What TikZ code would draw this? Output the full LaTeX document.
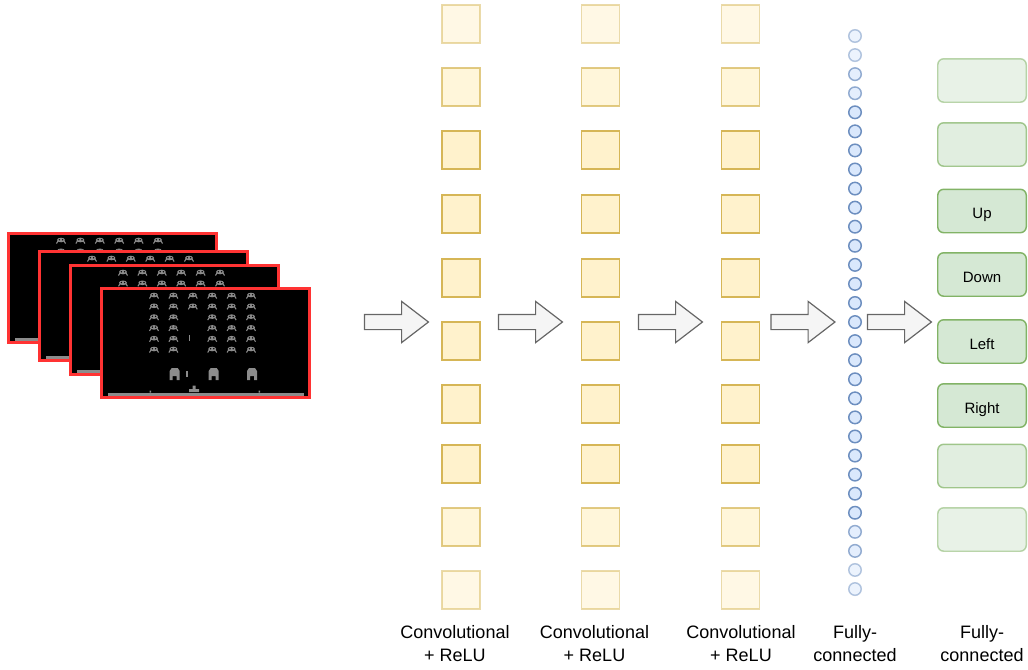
\documentclass[tikz,border=0pt]{standalone}
\usepackage{fontspec}
\setmainfont{Liberation Sans}
\usetikzlibrary{
	positioning,
	shapes.arrows
}

\definecolor{convfill}{HTML}{FFF2CC}
\definecolor{convline}{HTML}{D6B656}
\definecolor{fcfill}{HTML}{DAE8FC}
\definecolor{fcline}{HTML}{6C8EBF}
\definecolor{outfill}{HTML}{D5E8D4}
\definecolor{outline}{HTML}{82B366}
\definecolor{arrowfill}{HTML}{F5F5F5}
\definecolor{arrowline}{HTML}{666666}
\definecolor{screenred}{HTML}{FF3333}
\definecolor{spritegray}{HTML}{8C8C8C}

\begin{document}
\begin{tikzpicture}[
				x=0.75pt, y=-0.75pt,
				fmap/.style={draw=convline, fill=convfill, line width=1.1pt, minimum size=28.2pt, inner sep=0pt},
				neuron/.style={circle, draw=fcline, fill=fcfill, line width=1.1pt, minimum size=9.4pt, inner sep=0pt},
				action/.style={rounded corners=4.5pt, draw=outline, fill=outfill, line width=1.1pt, minimum width=66.4pt, minimum height=32.6pt, inner sep=0pt, text height=11.8pt, text depth=0pt, font=\fontsize{11.25}{13}\selectfont},
				blockarrow/.style={single arrow, draw=arrowline, fill=arrowfill, line width=0.9pt, inner sep=5.25pt, minimum height=48pt, single arrow head extend=9.75pt, single arrow tip angle=75},
				caption/.style={align=center, font=\fontsize{13.5}{17.25}\selectfont},
				screen/.style={fill=black, draw=screenred, line width=2.25pt},
				sprite/.style={fill=spritegray},
				invader/.pic={
					\fill[sprite] (0,0) ellipse (4 and 2.3);
					\draw[spritegray, line width=0.8pt] (-3,1) -- (-4.5,3.5) (3,1) -- (4.5,3.5);
					\fill[black] (-1.6,-0.3) circle (0.8) (1.6,-0.3) circle (0.8);
				}
			]
				\useasboundingbox (0,0) rectangle (1028,669);
				% stacked game frames, back to front
				\foreach \fx/\fy in {7/232, 38/250, 69/264, 100/287} {
					\begin{scope}[shift={(\fx,\fy)}]
						\draw[screen] (1.5,1.5) rectangle (209.5,110.5);
						% invaders
						\foreach \j in {0,1}
							\foreach \i in {0,...,5}
								\pic at ({54+19.4*\i},{8+10.8*\j}) {invader};
						\foreach \j in {2,...,5}
							\foreach \i in {0,1,3,4,5}
								\pic at ({54+19.4*\i},{8+10.8*\j}) {invader};
						\fill[sprite] (89.2,48) rectangle (90.4,54);
						% bunkers
						\foreach \bx in {74.7, 113.7, 152}
							\fill[sprite] (\bx-5,93) -- (\bx-5,84) -- (\bx-3,81) -- (\bx+3,81) -- (\bx+5,84)
								-- (\bx+5,93) -- (\bx+2,93) -- (\bx+2,89) -- (\bx-2,89) -- (\bx-2,93) -- cycle;
						\fill[sprite] (86.4,84) rectangle (87.6,90);
						% player and ground
						\fill[sprite] (89,105) rectangle (99,102) (92.5,102) rectangle (95.5,98.5);
						\fill[sprite] (8,105.5) rectangle (204,108.5);
						\fill[sprite] (49.5,103.5) rectangle (51,105.5) (158.5,103.5) rectangle (160,105.5);
					\end{scope}
				}
				% convolutional layers
				\foreach \cx [count=\c] in {461, 600.5, 740.5} {
					\foreach \ry/\op [count=\r] in {24/0.5, 87/0.72, 150/1, 214/1, 278/1, 341/1, 404/1, 464/1, 527/0.72, 590/0.5} {
						\node[fmap, opacity=\op] (conv\c-\r) at (\cx,\ry) {};
					}
				}
				% fully connected layer
				\foreach \n in {1,...,30} {
					\pgfmathsetmacro{\op}{(\n<3 || \n>28) ? 0.5 : ((\n<5 || \n>26) ? 0.72 : 1)}
					\node[neuron, opacity=\op] (fc-\n) at (855,{36+19.07*(\n-1)}) {};
				}
				% output actions
				\foreach \oy/\op/\txt [count=\k] in {80.5/0.55/, 144.5/0.72/, 211/1/Up, 274.5/1/Down, 341.5/1/Left, 405.5/1/Right, 466/0.72/, 529.5/0.55/} {
					\node[action, opacity=\op] (act-\k) at (982,\oy) {\txt};
				}
				% arrows between stages
				\node[blockarrow] (arr1) at (391.5,322) {};
				\node[blockarrow] (arr2) at (525.5,322) {};
				\node[blockarrow] (arr3) at (665.5,322) {};
				\node[blockarrow] (arr4) at (798,322) {};
				\node[blockarrow] (arr5) at (894.5,322) {};
				% captions
				\node[caption] (cap1) at (455,643.5) {Convolutional\\+ ReLU};
				\node[caption] (cap2) at (594.5,643.5) {Convolutional\\+ ReLU};
				\node[caption] (cap3) at (741,643.5) {Convolutional\\+ ReLU};
				\node[caption] (cap4) at (855,643.5) {Fully-\\connected};
				\node[caption] (cap5) at (982,643.5) {Fully-\\connected};
			\end{tikzpicture}
\end{document}
